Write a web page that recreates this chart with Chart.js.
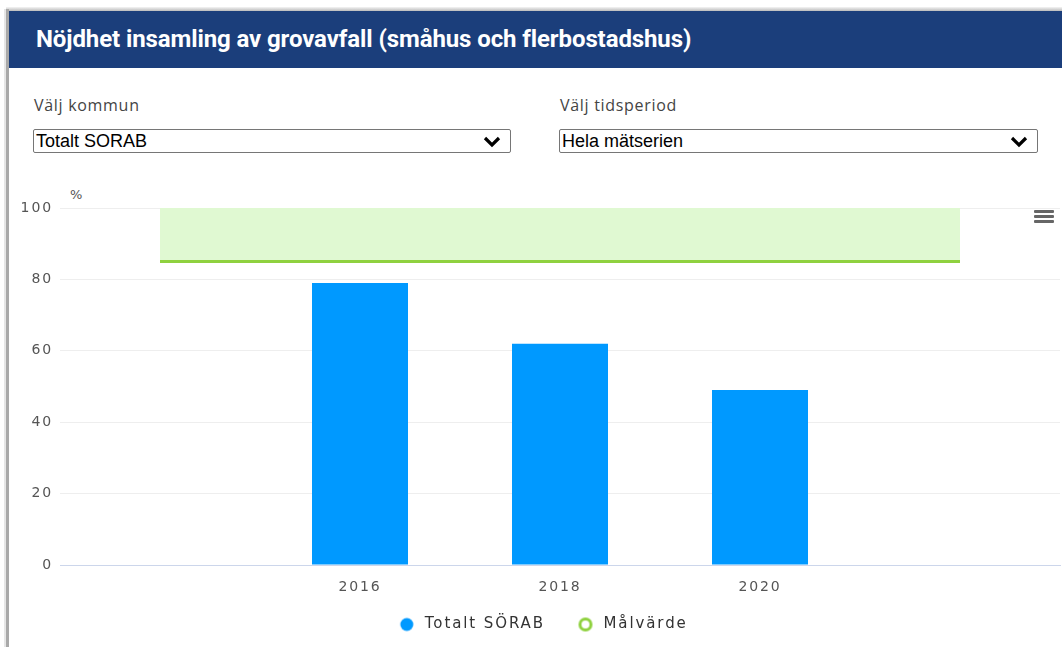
<!DOCTYPE html>
<html>
<head>
<meta charset="utf-8">
<script src="https://cdn.jsdelivr.net/npm/chart.js@4.4.1/dist/chart.umd.min.js"></script>
<style>
  html, body { margin: 0; padding: 0; background: #fff; }
  body { width: 1062px; height: 647px; position: relative; overflow: hidden; }
  #frame { position: absolute; left: 0; top: 0; width: 1062px; height: 647px; }
  #shadowTop { position: absolute; left: 6px; top: 7px; width: 1056px; height: 4px;
    background: linear-gradient(#f4f4f4, #bbb); }
  #leftBorder { position: absolute; left: 6px; top: 9px; width: 3px; height: 640px; background: #a9a9a9; }
  #leftShade { position: absolute; left: 4px; top: 9px; width: 2px; height: 640px; background: #e6e6e6; }
  #header { position: absolute; left: 9px; top: 11px; width: 1053px; height: 57px; background: #1b3e7b; }
  #header h1 { margin: 0; position: absolute; left: 27px; top: 13px; color: #fff;
    font-family: Roboto, "Liberation Sans", sans-serif; font-weight: bold; font-size: 24px;
    letter-spacing: -0.1px; white-space: nowrap; line-height: 30px; }
  .lbl { position: absolute; font-family: "Open Sans", "Noto Sans", sans-serif; font-size: 16px; letter-spacing: 0.7px; color: #444; }
  .sel { position: absolute; height: 24px; border: 1px solid #767676; border-radius: 2px; box-sizing: border-box;
    font-family: "Liberation Sans", Arial, sans-serif; font-size: 18px; color: #000; line-height: 22px; padding-left: 2px; }
  .sel svg { position: absolute; right: 9px; top: 6px; }
  #pct { position: absolute; left: 70px; top: 187px; font-family: "DejaVu Sans", sans-serif; font-size: 13px; color: #555; }
  #menu { position: absolute; left: 1034px; top: 210px; width: 20px; }
  #menu div { height: 3px; background: #666; margin-bottom: 2px; border-radius: 1px; }
  #wrap { position: absolute; left: 10px; top: 175px; width: 1052px; height: 472px; }
</style>
</head>
<body>
<div id="frame">
  <div id="shadowTop"></div>
  <div id="leftShade"></div>
  <div id="leftBorder"></div>
  <div id="header"><h1 id="title">Nöjdhet insamling av grovavfall (småhus och flerbostadshus)</h1></div>
  <div class="lbl" style="left:34px; top:94px;">Välj kommun</div>
  <div class="sel" style="left:33px; top:129px; width:478px;">Totalt SORAB
    <svg width="18" height="12" viewBox="0 0 18 12"><polyline points="2,2 9,9 16,2" fill="none" stroke="#000" stroke-width="3.2"/></svg></div>
  <div class="lbl" style="left:560px; top:94px;">Välj tidsperiod</div>
  <div class="sel" style="left:559px; top:129px; width:479px;">Hela mätserien
    <svg width="18" height="12" viewBox="0 0 18 12"><polyline points="2,2 9,9 16,2" fill="none" stroke="#000" stroke-width="3.2"/></svg></div>
  <div id="pct">%</div>
  <div id="wrap"><canvas id="c" width="1052" height="472"></canvas></div>
  <div id="menu"><div></div><div></div><div></div></div>
</div>
<script>
// ---- data ----
const categories = ["", "2016", "2018", "2020", ""];
const totaltSorab = [null, 79, 62, 49, null];
const malvarde = [85, 85, 85, 85, 85];
const yTicks = [0, 20, 40, 60, 80, 100];

const seriesNames = ["Totalt SÖRAB", "Målvärde"];
const barColor = "#0099ff";
const targetLine = "#8fd13f";
const targetFill = "#e0f9d2";

function marker(fill, stroke, r, lw) {
  const cv = document.createElement('canvas');
  cv.width = 16; cv.height = 16;
  const x = cv.getContext('2d');
  x.beginPath(); x.arc(8, 8, r, 0, Math.PI * 2);
  x.fillStyle = fill; x.fill();
  if (lw) { x.lineWidth = lw; x.strokeStyle = stroke; x.stroke(); }
  return cv;
}
const dotBlue = marker(barColor, null, 6.5, 0);
const ringGreen = marker('#ffffff', targetLine, 5.5, 3);

const layoutPlugin = {
  id: 'layoutTweak',
  beforeLayout(chart) {
    const lg = chart.legend;
    if (lg && !lg._tweaked) {
      lg._tweaked = true;
      const fit = lg.fit.bind(lg);
      lg.fit = function () { fit(); this.height -= 10; };
      const draw = lg.draw.bind(lg);
      lg.draw = function () { const c = this.ctx; c.save(); c.translate(-12, -10); draw(); c.restore(); };
    }
  },
  beforeDraw(chart) { chart.ctx.letterSpacing = '1.9px'; }
};

new Chart(document.getElementById('c'), {
  data: {
    labels: categories,
    datasets: [
      {
        type: 'line', label: seriesNames[1], data: malvarde,
        borderColor: targetLine, borderWidth: 3, backgroundColor: targetFill,
        fill: 'end', pointRadius: 0, order: 2
      },
      {
        type: 'bar', label: seriesNames[0], data: totaltSorab,
        backgroundColor: barColor, borderWidth: 0,
        categoryPercentage: 1, barPercentage: 0.48, order: 1
      }
    ]
  },
  options: {
    responsive: false, animation: false,
    layout: { padding: { top: 33, right: 2, left: 0, bottom: 5 } },
    scales: {
      x: {
        grid: { display: false, drawTicks: false },
        border: { display: true, color: '#ccd6eb', width: 1 },
        ticks: { color: '#555', font: { family: 'DejaVu Sans', size: 14 }, padding: 14, autoSkip: false, maxRotation: 0 },
        afterFit(s) { s.height = 32; }
      },
      y: {
        min: 0, max: 100,
        afterBuildTicks(s) { s.ticks = yTicks.map(v => ({ value: v })); },
        grid: { color: c => c.tick && c.tick.value === 0 ? '#ccd6eb' : '#eeeeee', drawTicks: false, lineWidth: 1 },
        border: { display: false },
        ticks: { color: '#555', font: { family: 'DejaVu Sans', size: 14 }, padding: 7 },
        afterFit(s) { s.width = 50; }
      }
    },
    plugins: {
      tooltip: { enabled: false },
      legend: {
        position: 'bottom',
        labels: {
          usePointStyle: true, pointStyleWidth: 21, boxHeight: 13, padding: 30,
          color: '#333', font: { family: 'DejaVu Sans', size: 15 },
          generateLabels(chart) {
            return [
              { text: seriesNames[0], fillStyle: barColor, strokeStyle: barColor, lineWidth: 0, pointStyle: dotBlue, datasetIndex: 1, fontColor: '#333' },
              { text: seriesNames[1], fillStyle: '#ffffff', strokeStyle: targetLine, lineWidth: 3, pointStyle: ringGreen, datasetIndex: 0, fontColor: '#333' }
            ];
          }
        }
      }
    }
  },
  plugins: [layoutPlugin]
});
</script>
</body>
</html>
